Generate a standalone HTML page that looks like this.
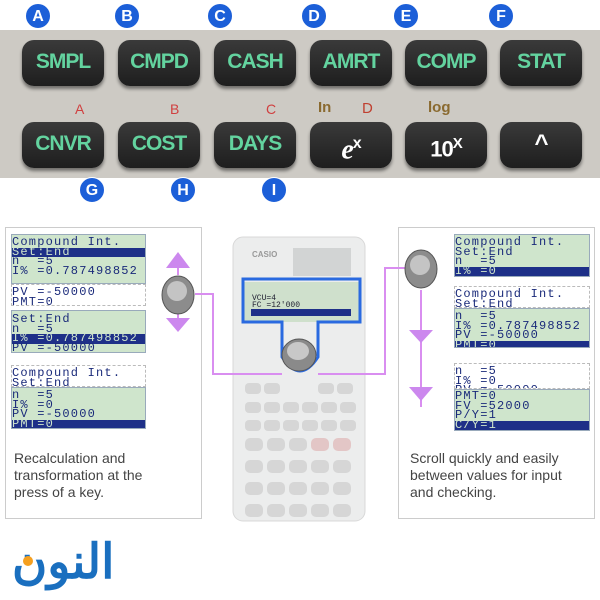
<!DOCTYPE html>
<html><head><style>
*{margin:0;padding:0;box-sizing:border-box}
body{width:600px;height:600px;position:relative;background:#fff;overflow:hidden;font-family:"Liberation Sans",sans-serif}
.a{position:absolute}
.band{left:0;top:30px;width:600px;height:148px;background:#cdcac4}
.key{position:absolute;width:82px;height:46px;border-radius:12px;background:linear-gradient(#3a3a3a,#1e1e1e);box-shadow:0 3px 3px rgba(0,0,0,.45);color:#63d39f;font-weight:bold;font-size:21px;text-align:center;line-height:44px;letter-spacing:-1px}
.lab{position:absolute;width:26px;height:26px;border-radius:50%;background:#1c5fd8;color:#fff;font-weight:bold;font-size:16px;text-align:center;line-height:25px;border:1px solid #fff}
.red{position:absolute;color:#d04040;font-size:14px}
.brn{position:absolute;color:#8a6a30;font-size:15px;font-weight:bold}
.panel{position:absolute;border:1px solid #ccc;background:#fff}
.scr{position:absolute;font-family:"Liberation Mono",monospace;font-size:12px;line-height:9.5px;color:#1a2a7a;letter-spacing:1.2px;overflow:hidden}
.g{background:#cfe5cc;border:1px solid #9ab}
.hl{background:#1e3088;color:#cfe5cc}
.dash{border:1px dashed #bbb;background:#fff}
.txt{position:absolute;font-size:14px;line-height:17px;color:#444}
</style></head><body>
<div class="a band"></div>
<div class="key" style="left:22px;top:40px">SMPL</div>
<div class="key" style="left:118px;top:40px">CMPD</div>
<div class="key" style="left:214px;top:40px">CASH</div>
<div class="key" style="left:310px;top:40px">AMRT</div>
<div class="key" style="left:405px;top:40px">COMP</div>
<div class="key" style="left:500px;top:40px">STAT</div>
<div class="key" style="left:22px;top:122px">CNVR</div>
<div class="key" style="left:118px;top:122px">COST</div>
<div class="key" style="left:214px;top:122px">DAYS</div>
<div class="key" style="left:310px;top:122px;color:#fff;font-family:'Liberation Serif',serif;font-size:28px;font-style:italic">e<sup style="font-size:16px;font-family:'Liberation Sans';font-style:normal">x</sup></div>
<div class="key" style="left:405px;top:122px;color:#fff;font-size:22px">10<sup style="font-size:15px">X</sup></div>
<div class="key" style="left:500px;top:122px;color:#fff;font-size:24px">^</div>
<div class="red" style="left:75px;top:101px">A</div>
<div class="red" style="left:170px;top:101px">B</div>
<div class="red" style="left:266px;top:101px">C</div>
<div class="brn" style="left:318px;top:99px">In</div>
<div class="red" style="left:362px;top:100px;color:#c04030;font-size:15px">D</div>
<div class="brn" style="left:428px;top:99px">log</div>
<div class="lab" style="left:25px;top:3px">A</div>
<div class="lab" style="left:114px;top:3px">B</div>
<div class="lab" style="left:207px;top:3px">C</div>
<div class="lab" style="left:301px;top:3px">D</div>
<div class="lab" style="left:393px;top:3px">E</div>
<div class="lab" style="left:488px;top:3px">F</div>
<div class="lab" style="left:79px;top:177px">G</div>
<div class="lab" style="left:170px;top:177px">H</div>
<div class="lab" style="left:261px;top:177px">I</div>

<div class="panel" style="left:5px;top:227px;width:197px;height:292px"></div>
<div class="panel" style="left:398px;top:227px;width:197px;height:292px"></div>

<div class="scr g" style="left:11px;top:234px;width:135px;height:50px;padding-top:3px">Compound Int.<br><span class="hl" style="display:block">Set:End</span>n&nbsp; =5<br>I% =0.787498852</div>
<div class="scr dash" style="left:11px;top:284px;width:135px;height:22px;padding-top:3px">PV =-50000<br>PMT=0</div>
<div class="scr g" style="left:11px;top:310px;width:135px;height:43px;padding-top:4px">Set:End<br>n&nbsp; =5<br><span class="hl" style="display:block">I% =0.787498852</span>PV =-50000</div>
<div class="scr dash" style="left:11px;top:365px;width:135px;height:22px;padding-top:3px">Compound Int.<br>Set:End</div>
<div class="scr g" style="left:11px;top:387px;width:135px;height:42px;padding-top:3px">n&nbsp; =5<br>I% =0<br>PV =-50000<br><span class="hl" style="display:block">PMT=0</span></div>
<div class="txt" style="left:14px;top:450px">Recalculation and<br>transformation at the<br>press of a key.</div>

<div class="scr g" style="left:454px;top:234px;width:136px;height:43px;padding-top:3px">Compound Int.<br>Set:End<br>n&nbsp; =5<br><span class="hl" style="display:block">I% =0</span></div>
<div class="scr dash" style="left:454px;top:286px;width:136px;height:22px;padding-top:3px">Compound Int.<br>Set:End</div>
<div class="scr g" style="left:454px;top:308px;width:136px;height:40px;padding-top:3px">n&nbsp; =5<br>I% =0.787498852<br>PV =-50000<br><span class="hl" style="display:block">PMT=0</span></div>
<div class="scr dash" style="left:454px;top:363px;width:136px;height:26px;padding-top:3px">n&nbsp; =5<br>I% =0<br>PV =-50000</div>
<div class="scr g" style="left:454px;top:389px;width:136px;height:42px;padding-top:2px">PMT=0<br>FV =52000<br>P/Y=1<br><span class="hl" style="display:block">C/Y=1</span></div>
<div class="txt" style="left:410px;top:450px">Scroll quickly and easily<br>between values for input<br>and checking.</div>

<svg class="a" style="left:0;top:0" width="600" height="600">
<rect x="233" y="237" width="132" height="284" rx="10" fill="#eceded" stroke="#d8d8d8"/>
<rect x="293" y="248" width="58" height="28" fill="#d2d4d4"/>
<text x="252" y="257" font-size="8" fill="#999" font-weight="bold">CASIO</text>
<rect x="244" y="282" width="115" height="40" fill="#cfe0cc"/>
<text x="252" y="300" font-family="Liberation Mono" font-size="8" fill="#223">VCU=4</text>
<text x="252" y="307" font-family="Liberation Mono" font-size="8" fill="#223">FC =12'000</text>
<rect x="251" y="309" width="100" height="7" fill="#1e3088"/>
<path d="M243 279 H360 V322 H318 V357 Q300 385 282 357 V322 H243 Z" fill="none" stroke="#2a6ae0" stroke-width="3"/>
<ellipse cx="299" cy="355" rx="17" ry="16" fill="#8a8a8a" stroke="#555"/>
<ellipse cx="298" cy="351" rx="11" ry="9" fill="#c8c8c8"/>
<g fill="#d6d6d6">
<rect x="245" y="383" width="16" height="11" rx="4"/><rect x="264" y="383" width="16" height="11" rx="4"/><rect x="318" y="383" width="16" height="11" rx="4"/><rect x="337" y="383" width="16" height="11" rx="4"/>
<rect x="245" y="402" width="16" height="11" rx="4"/><rect x="264" y="402" width="16" height="11" rx="4"/><rect x="283" y="402" width="16" height="11" rx="4"/><rect x="302" y="402" width="16" height="11" rx="4"/><rect x="321" y="402" width="16" height="11" rx="4"/><rect x="340" y="402" width="16" height="11" rx="4"/>
<rect x="245" y="420" width="16" height="11" rx="4"/><rect x="264" y="420" width="16" height="11" rx="4"/><rect x="283" y="420" width="16" height="11" rx="4"/><rect x="302" y="420" width="16" height="11" rx="4"/><rect x="321" y="420" width="16" height="11" rx="4"/><rect x="340" y="420" width="16" height="11" rx="4"/>
<rect x="245" y="438" width="18" height="13" rx="5"/><rect x="267" y="438" width="18" height="13" rx="5"/><rect x="289" y="438" width="18" height="13" rx="5"/><rect x="311" y="438" width="18" height="13" rx="5" fill="#e3c6c6"/><rect x="333" y="438" width="18" height="13" rx="5" fill="#e3c6c6"/>
<rect x="245" y="460" width="18" height="13" rx="5"/><rect x="267" y="460" width="18" height="13" rx="5"/><rect x="289" y="460" width="18" height="13" rx="5"/><rect x="311" y="460" width="18" height="13" rx="5"/><rect x="333" y="460" width="18" height="13" rx="5"/>
<rect x="245" y="482" width="18" height="13" rx="5"/><rect x="267" y="482" width="18" height="13" rx="5"/><rect x="289" y="482" width="18" height="13" rx="5"/><rect x="311" y="482" width="18" height="13" rx="5"/><rect x="333" y="482" width="18" height="13" rx="5"/>
<rect x="245" y="504" width="18" height="13" rx="5"/><rect x="267" y="504" width="18" height="13" rx="5"/><rect x="289" y="504" width="18" height="13" rx="5"/><rect x="311" y="504" width="18" height="13" rx="5"/><rect x="333" y="504" width="18" height="13" rx="5"/>
</g>
<g stroke="#d98ef0" stroke-width="2" fill="none">
<path d="M195 294 H213 V374 H282"/>
<path d="M318 374 H385 V268 H405"/>
<path d="M178 268 V275 M178 313 V320"/>
<path d="M421 290 V407"/>
</g>
<g fill="#cc88ee">
<polygon points="166,268 178,252 190,268"/>
<polygon points="166,318 178,332 190,318"/>
<polygon points="409,330 421,343 433,330"/>
<polygon points="409,387 421,401 433,387"/>
</g>
<ellipse cx="178" cy="295" rx="16" ry="19" fill="#8c8c8c" stroke="#555"/>
<ellipse cx="177" cy="291" rx="10" ry="10" fill="#c4c4c4"/>
<ellipse cx="421" cy="269" rx="16" ry="19" fill="#8c8c8c" stroke="#555"/>
<ellipse cx="420" cy="265" rx="10" ry="10" fill="#c4c4c4"/>
<text x="12" y="578" font-family="'Noto Sans CJK SC',sans-serif" font-size="48" font-weight="bold" fill="#1a6fbf">النون</text>
<circle cx="28" cy="561" r="5" fill="#f5a020"/>
</svg>
</body></html>
